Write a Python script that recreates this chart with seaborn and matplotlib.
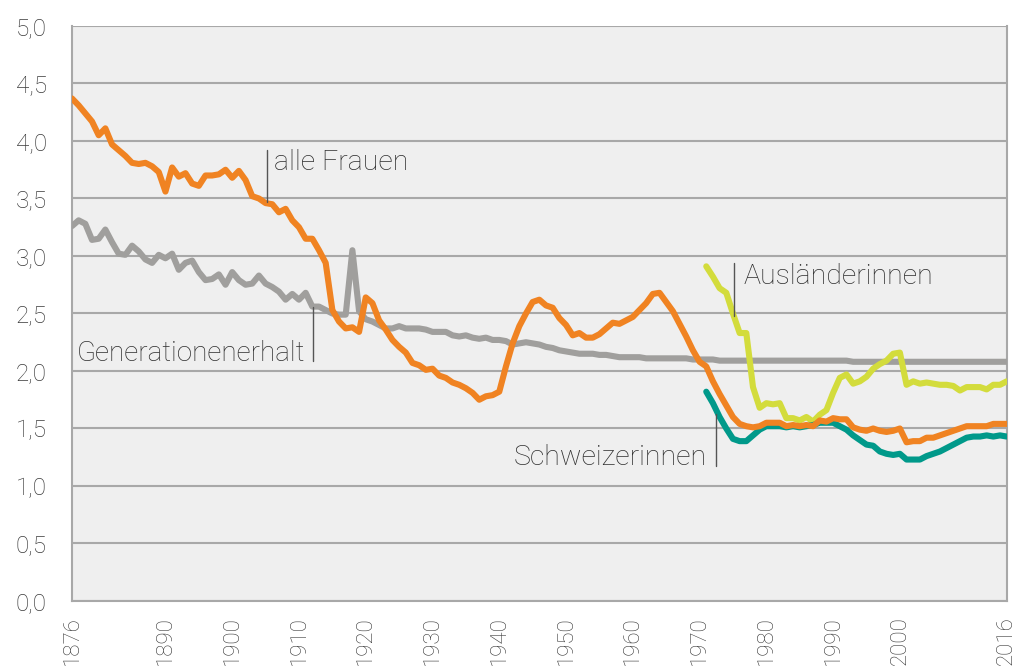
import numpy as np
import pandas as pd
import matplotlib
matplotlib.use("Agg")
import matplotlib.pyplot as plt
import seaborn as sns

years = list(range(1876, 2017))
years_split = list(range(1971, 2017))

# alle Frauen, 1876-2016
alle_frauen = [
    4.37, 4.31, 4.24, 4.17,
    4.05, 4.11, 3.97, 3.92, 3.87, 3.81, 3.80, 3.81, 3.78, 3.73,
    3.56, 3.77, 3.69, 3.72, 3.63, 3.61, 3.70, 3.70, 3.71, 3.75,
    3.68, 3.74, 3.66, 3.52, 3.50, 3.46, 3.45, 3.38, 3.41, 3.31,
    3.25, 3.15, 3.15, 3.05, 2.94, 2.53, 2.43, 2.37, 2.38, 2.34,
    2.64, 2.59, 2.44, 2.36, 2.27, 2.21, 2.16, 2.07, 2.05, 2.01,
    2.02, 1.96, 1.94, 1.90, 1.88, 1.85, 1.81, 1.75, 1.78, 1.79,
    1.82, 2.04, 2.24, 2.39, 2.50, 2.60, 2.62, 2.57, 2.55, 2.46,
    2.40, 2.31, 2.33, 2.29, 2.29, 2.32, 2.37, 2.42, 2.41, 2.44,
    2.47, 2.53, 2.59, 2.67, 2.68, 2.60, 2.52, 2.41, 2.30, 2.18,
    2.08, 2.04, 1.91, 1.80, 1.70, 1.60, 1.54, 1.52, 1.51, 1.52,
    1.55, 1.55, 1.55, 1.52, 1.53, 1.52, 1.53, 1.52, 1.57, 1.56,
    1.59, 1.58, 1.58, 1.51, 1.49, 1.48, 1.50, 1.48, 1.47, 1.48,
    1.50, 1.38, 1.39, 1.39, 1.42, 1.42, 1.44, 1.46, 1.48, 1.50,
    1.52, 1.52, 1.52, 1.52, 1.54, 1.54, 1.54,
]

# Generationenerhalt, 1876-2016
generationenerhalt = [
    3.26, 3.31, 3.28, 3.14,
    3.15, 3.23, 3.12, 3.02, 3.01, 3.09, 3.04, 2.97, 2.94, 3.01,
    2.98, 3.02, 2.88, 2.94, 2.96, 2.86, 2.79, 2.80, 2.84, 2.75,
    2.86, 2.79, 2.75, 2.76, 2.83, 2.76, 2.73, 2.69, 2.62, 2.67,
    2.62, 2.68, 2.56, 2.56, 2.53, 2.50, 2.49, 2.49, 3.05, 2.52,
    2.45, 2.43, 2.40, 2.37, 2.37, 2.39, 2.37, 2.37, 2.37, 2.36,
    2.34, 2.34, 2.34, 2.31, 2.30, 2.31, 2.29, 2.28, 2.29, 2.27,
    2.27, 2.26, 2.23, 2.24, 2.25, 2.24, 2.23, 2.21, 2.20, 2.18,
    2.17, 2.16, 2.15, 2.15, 2.15, 2.14, 2.14, 2.13, 2.12, 2.12,
    2.12, 2.12, 2.11, 2.11, 2.11, 2.11, 2.11, 2.11, 2.11, 2.10,
    2.10, 2.10, 2.10, 2.09, 2.09, 2.09, 2.09, 2.09, 2.09, 2.09,
    2.09, 2.09, 2.09, 2.09, 2.09, 2.09, 2.09, 2.09, 2.09, 2.09,
    2.09, 2.09, 2.09, 2.08, 2.08, 2.08, 2.08, 2.08, 2.08, 2.08,
    2.08, 2.08, 2.08, 2.08, 2.08, 2.08, 2.08, 2.08, 2.08, 2.08,
    2.08, 2.08, 2.08, 2.08, 2.08, 2.08, 2.08,
]

# Ausländerinnen, 1971-2016
auslaenderinnen = [
    2.91, 2.82, 2.72, 2.68, 2.50, 2.33, 2.33, 1.86, 1.68,
    1.72, 1.71, 1.72, 1.59, 1.59, 1.57, 1.60, 1.56, 1.62, 1.66,
    1.81, 1.94, 1.97, 1.89, 1.91, 1.95, 2.02, 2.06, 2.09, 2.15,
    2.16, 1.88, 1.91, 1.89, 1.90, 1.89, 1.88, 1.88, 1.87, 1.83,
    1.86, 1.86, 1.86, 1.84, 1.88, 1.88, 1.91,
]

# Schweizerinnen, 1971-2016
schweizerinnen = [
    1.82, 1.72, 1.60, 1.50, 1.41, 1.39, 1.39, 1.44, 1.49,
    1.52, 1.52, 1.52, 1.51, 1.52, 1.51, 1.52, 1.53, 1.55, 1.55,
    1.55, 1.52, 1.49, 1.44, 1.40, 1.36, 1.35, 1.30, 1.28, 1.27,
    1.28, 1.23, 1.23, 1.23, 1.26, 1.28, 1.30, 1.33, 1.36, 1.39,
    1.42, 1.43, 1.43, 1.44, 1.43, 1.44, 1.43,
]

labelled_years = [1876, 1890, 1900, 1910, 1920, 1930, 1940, 1950,
                  1960, 1970, 1980, 1990, 2000, 2016]
y_ticks = [0, 0.5, 1, 1.5, 2, 2.5, 3, 3.5, 4, 4.5, 5]

df_all = pd.DataFrame({"jahr": years, "alle": alle_frauen,
                       "gen": generationenerhalt})
df_split = pd.DataFrame({"jahr": years_split, "ausl": auslaenderinnen,
                         "ch": schweizerinnen})

sns.set_style("white")
plt.rcParams["font.family"] = ["Roboto", "DejaVu Sans"]
plt.rcParams["font.weight"] = "light"

fig = plt.figure(figsize=(10.18, 6.68), dpi=100)
ax = fig.add_axes([0.0707, 0.1003, 0.9182, 0.8608])
ax.set_facecolor("#efefef")

grid_col = "#a8a8a8"
for v in y_ticks:
    ax.axhline(v, color=grid_col, lw=1.5, zorder=1)

lw = 4.4
sns.lineplot(data=df_all, x="jahr", y="gen", ax=ax, color="#a09f9d", lw=lw, zorder=3)
sns.lineplot(data=df_split, x="jahr", y="ausl", ax=ax, color="#d3dc3c", lw=lw, zorder=3)
sns.lineplot(data=df_split, x="jahr", y="ch", ax=ax, color="#00998a", lw=lw, zorder=3)
sns.lineplot(data=df_all, x="jahr", y="alle", ax=ax, color="#f08322", lw=lw, zorder=4)

ax.set_xlim(1876, 2016)
ax.set_ylim(0, 5)

ticks = [1876] + list(range(1880, 2016, 5)) + [2016]
ax.set_xticks(ticks)
ax.set_xticklabels([str(t) if t in labelled_years else "" for t in ticks],
                   rotation=90, fontsize=16, color="#3a3a3a")
ax.set_yticks(y_ticks)
ax.set_yticklabels([f"{v:.1f}".replace(".", ",") for v in y_ticks],
                   fontsize=17.5, color="#3a3a3a")
ax.tick_params(axis="x", direction="out", length=5, width=1.5, color=grid_col, pad=6)
ax.tick_params(axis="y", direction="out", length=5, width=1.5, color=grid_col, pad=13)
ax.set_xlabel("")
ax.set_ylabel("")

for side in ["left", "bottom", "right"]:
    ax.spines[side].set_color(grid_col)
    ax.spines[side].set_linewidth(1.5)
ax.spines["top"].set_visible(False)

txt = dict(fontsize=20.5, color="#2e2e2e", fontweight="light", zorder=5)
mark = dict(color="#555555", lw=1.0, zorder=5)

ax.plot([1905.2, 1905.2], [3.47, 3.92], **mark)
ax.text(1906.3, 3.75, "alle Frauen", ha="left", va="baseline", **txt)

ax.plot([1912.1, 1912.1], [2.09, 2.56], **mark)
ax.text(1910.9, 2.09, "Generationenerhalt", ha="right", va="baseline",
        **{**txt, "fontsize": 20})

ax.plot([1975.2, 1975.2], [2.48, 2.94], **mark)
ax.text(1976.6, 2.76, "Ausländerinnen", ha="left", va="baseline", **txt)

ax.plot([1972.5, 1972.5], [1.17, 1.63], **mark)
ax.text(1971.0, 1.18, "Schweizerinnen", ha="right", va="baseline", **txt)

fig.savefig("out.png", dpi=100, facecolor="white")
